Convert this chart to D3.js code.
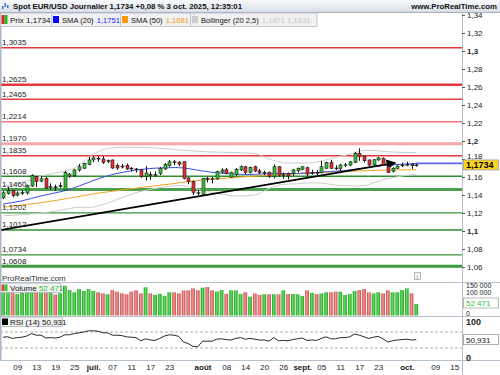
<!DOCTYPE html>
<html>
<head>
<meta charset="utf-8">
<script src="https://cdn.jsdelivr.net/npm/d3@7/dist/d3.min.js"></script>
<style>
  body { margin: 0; background: #fff; }
  svg { display: block; font-family: "Liberation Sans", Arial, sans-serif; }
</style>
</head>
<body>
<svg id="chart" width="500" height="375"></svg>
<script>
// ---- data (daily EUR/USD, 4 June -> 3 Oct 2025) ----
var open = [1.1368,1.1418,1.1450,1.1398,1.1422,1.1423,1.1500,1.1604,1.1555,1.1585,
  1.1490,1.1490,1.1492,1.1455,1.1610,1.1614,1.1678,1.1697,1.1741,1.1790,
  1.1808,1.1800,1.1778,1.1789,1.1730,1.1720,1.1730,1.1698,1.1690,1.1678,
  1.1603,1.1628,1.1620,1.1641,1.1689,1.1730,1.1770,1.1765,1.1770,1.1590,
  1.1548,1.1425,1.1408,1.1585,1.1580,1.1578,1.1655,1.1680,1.1598,1.1630,
  1.1678,1.1714,1.1652,1.1714,1.1667,1.1648,1.1650,1.1605,1.1714,1.1620,
  1.1640,1.1640,1.1670,1.1686,1.1703,1.1640,1.1648,1.1647,1.1697,1.1759,
  1.1700,1.1697,1.1733,1.1733,1.1762,1.1863,1.1833,1.1789,1.1733,1.1790,
  1.1807,1.1714,1.1664,1.1697,1.1725,1.1733,1.1740,1.1725];
var high = [1.1445,1.1492,1.1458,1.1440,1.1450,1.1515,1.1631,1.1614,1.1610,1.1600,
  1.1530,1.1515,1.1540,1.1668,1.1645,1.1690,1.1745,1.1760,1.1825,1.1830,
  1.1830,1.1830,1.1795,1.1795,1.1750,1.1745,1.1750,1.1710,1.1700,1.1690,
  1.1721,1.1660,1.1660,1.1710,1.1755,1.1788,1.1788,1.1775,1.1772,1.1598,
  1.1560,1.1450,1.1588,1.1600,1.1600,1.1670,1.1698,1.1700,1.1660,1.1700,
  1.1730,1.1720,1.1715,1.1725,1.1690,1.1670,1.1660,1.1740,1.1718,1.1650,
  1.1650,1.1690,1.1705,1.1720,1.1715,1.1680,1.1680,1.1780,1.1770,1.1790,
  1.1730,1.1748,1.1755,1.1780,1.1878,1.1918,1.1840,1.1795,1.1800,1.1820,
  1.1818,1.1740,1.1710,1.1730,1.1760,1.1770,1.1755,1.1750];
var low = [1.1355,1.1405,1.1373,1.1385,1.1400,1.1405,1.1490,1.1490,1.1540,1.1470,
  1.1460,1.1446,1.1480,1.1450,1.1590,1.1600,1.1660,1.1690,1.1730,1.1765,
  1.1770,1.1745,1.1755,1.1690,1.1680,1.1695,1.1678,1.1660,1.1650,1.1590,
  1.1560,1.1570,1.1600,1.1620,1.1680,1.1712,1.1730,1.1720,1.1575,1.1520,
  1.1400,1.1392,1.1392,1.1540,1.1530,1.1570,1.1640,1.1630,1.1590,1.1615,
  1.1665,1.1630,1.1640,1.1655,1.1630,1.1620,1.1590,1.1585,1.1605,1.1580,
  1.1572,1.1610,1.1650,1.1675,1.1605,1.1625,1.1620,1.1640,1.1690,1.1690,
  1.1680,1.1660,1.1710,1.1720,1.1755,1.1780,1.1760,1.1720,1.1725,1.1780,
  1.1725,1.1645,1.1650,1.1690,1.1710,1.1720,1.1690,1.1715];
var close = [1.1425,1.1452,1.1395,1.1422,1.1426,1.1505,1.1615,1.1548,1.1580,1.1478,
  1.1494,1.1486,1.1504,1.1650,1.1632,1.1678,1.1714,1.1752,1.1790,1.1812,
  1.1805,1.1763,1.1782,1.1700,1.1700,1.1718,1.1690,1.1694,1.1686,1.1603,
  1.1645,1.1618,1.1627,1.1697,1.1741,1.1768,1.1767,1.1742,1.1585,1.1548,
  1.1430,1.1418,1.1585,1.1581,1.1578,1.1659,1.1678,1.1641,1.1650,1.1686,
  1.1714,1.1652,1.1704,1.1667,1.1648,1.1651,1.1608,1.1714,1.1620,1.1625,
  1.1612,1.1678,1.1697,1.1714,1.1633,1.1648,1.1645,1.1714,1.1759,1.1697,
  1.1697,1.1733,1.1735,1.1768,1.1863,1.1826,1.1781,1.1733,1.1792,1.1812,
  1.1733,1.1650,1.1697,1.1722,1.1733,1.1740,1.1725,1.1734];
var volume = [118000,125000,110000,98000,105000,121000,128000,112000,104000,117000,
  109000,96000,102000,136000,116000,106000,121000,112000,121000,112000,
  106000,101000,97000,116000,109000,101000,97000,109000,115000,101000,
  129000,101000,94000,99000,90000,106000,106000,101000,115000,115000,
  124000,115000,127000,130000,115000,109000,116000,99000,115000,115000,
  98000,106000,86000,101000,94000,97000,97000,97000,97000,115000,
  98000,98000,97000,89000,115000,104000,98000,101000,106000,106000,
  109000,109000,94000,98000,112000,116000,121000,106000,101000,106000,
  101000,115000,106000,106000,116000,124000,101000,52471];
var rsi = [57,58,54,56,57,60,66,62,62,55,56,55,57,63,63,66,68,70,73,73,
  72,68,68,62,62,61,58,57,56,48,53,50,49,54,60,63,62,59,45,41,
  34,33,47,47,47,52,53,51,50,54,56,52,54,52,50,50,47,56,48,49,
  48,51,53,55,49,50,49,54,58,53,53,56,56,58,65,62,58,54,57,59,
  53,45,48,50,51,52,50,50.931];

// indicator lines, read at sample candles
var sma20Idx = [0,4,8,12,14,16,18,20,22,24,26,28,30,32,34,36,38,40,42,44,46,48,50,52,54,56,58,60,62,64,66,68,70,72,74,76,78,80,82,84,86,87];
var sma20Val = [1.1300,1.1335,1.1390,1.1435,1.1462,1.1500,1.1540,1.1580,1.1612,1.1640,1.1660,1.1678,1.1690,1.1698,1.1702,1.1705,1.1700,1.1685,1.1668,1.1652,1.1642,1.1635,1.1630,1.1628,1.1632,1.1636,1.1640,1.1638,1.1640,1.1645,1.1650,1.1658,1.1665,1.1672,1.1685,1.1700,1.1715,1.1728,1.1735,1.1742,1.1748,1.1751];
var sma50Idx = [0,5,10,15,20,25,30,35,40,45,50,55,60,65,70,75,80,85,87];
var sma50Val = [1.1265,1.1295,1.1330,1.1375,1.1420,1.1455,1.1490,1.1520,1.1555,1.1580,1.1600,1.1615,1.1630,1.1645,1.1658,1.1668,1.1676,1.1680,1.1681];
var bandIdx = [0,4,8,12,14,16,18,20,22,25,28,31,34,37,40,43,46,50,53,56,58,60,62,64,66,68,70,72,74,76,78,80,82,84,87];
var bandUpper = [1.1500,1.1540,1.1610,1.1655,1.1680,1.1730,1.1820,1.1880,1.1915,1.1930,1.1930,1.1925,1.1915,1.1900,1.1890,1.1880,1.1875,1.1870,1.1860,1.1800,1.1770,1.1755,1.1755,1.1757,1.1765,1.1790,1.1820,1.1840,1.1870,1.1895,1.1895,1.1885,1.1878,1.1873,1.1871];
var bandLower = [1.1170,1.1180,1.1200,1.1230,1.1250,1.1265,1.1260,1.1280,1.1309,1.1370,1.1426,1.1463,1.1489,1.1506,1.1480,1.1440,1.1409,1.1390,1.1400,1.1472,1.1510,1.1521,1.1525,1.1533,1.1535,1.1526,1.1510,1.1504,1.1500,1.1505,1.1535,1.1571,1.1592,1.1611,1.1631];

// support / resistance levels and the drawn trend line
var resistLevels = [1.3035, 1.2625, 1.2465, 1.2214, 1.1970, 1.1835];
var supportLevels = [1.1608, 1.1460, 1.1202, 1.1012, 1.0734, 1.0608];
var trendIdx = [-0.63, 81.6];
var trendVal = [1.1010, 1.1748];

// axis ticks
var dateTickIdx = [3,7,11,15,19,23,27,31,35,42,47,51,55,59,63,67,71,75,79,85,91,95];
var dateTickLabels = ["09","13","19","25","juil.","07","11","17","23","août","08","14","20","26","sept.","05","11","17","23","oct.","09","15"];
var priceTicks = [1.06,1.08,1.10,1.12,1.14,1.16,1.18,1.20,1.22,1.24,1.26,1.28,1.30,1.32,1.34];
var volTicks = [0, 100000, 150000];
var rsiTicks = [0, 100];
var rsiBands = [70, 30];

var lastPrice = 1.1734, lastSma20 = 1.1751, lastSma50 = 1.1681;

// ---- layout ----
var svg = d3.select("#chart");
var axisX = 462;
var priceTop = 12, priceBottom = 282, volBottom = 316, rsiBottom = 360;

var x = d3.scaleLinear().domain([0, 95]).range([3, 3 + 4.75 * 95]);
var y = d3.scaleLinear().domain([1.06, 1.34]).range([267, 15]);
var yVol = d3.scaleLinear().domain([0, 150000]).range([315.5, 315.5 - 150000 / 4563]);
var yRsi = d3.scaleLinear().domain([0, 100]).range([360, 320]);

var comma = function(s) { return s.replace(".", ","); };

var defs = svg.append("defs");
function clip(id, y0, y1) {
  defs.append("clipPath").attr("id", id)
    .append("rect").attr("x", 0).attr("y", y0).attr("width", axisX).attr("height", y1 - y0);
}
clip("clipPrice", priceTop, priceBottom);
clip("clipVol", priceBottom, volBottom);
clip("clipRsi", volBottom, rsiBottom);

function hGrad(id, edge, mid) {
  var g = defs.append("linearGradient").attr("id", id).attr("x1", 0).attr("x2", 1).attr("y1", 0).attr("y2", 0);
  g.append("stop").attr("offset", "0%").attr("stop-color", edge);
  g.append("stop").attr("offset", "45%").attr("stop-color", mid);
  g.append("stop").attr("offset", "100%").attr("stop-color", edge);
}
hGrad("volUp", "#1f9a1f", "#5ee25e");
hGrad("volDown", "#c14545", "#f59a9a");

var tg = defs.append("linearGradient").attr("id", "titleBg").attr("x1", 0).attr("x2", 0).attr("y1", 0).attr("y2", 1);
tg.append("stop").attr("offset", "0%").attr("stop-color", "#f8fafc");
tg.append("stop").attr("offset", "100%").attr("stop-color", "#d7dee6");

defs.append("marker").attr("id", "arrow")
    .attr("viewBox", "0 0 10 10").attr("refX", 4).attr("refY", 5)
    .attr("markerWidth", 5.5).attr("markerHeight", 5.5).attr("orient", "auto")
  .append("path").attr("d", "M0,0 L10,5 L0,10 z").attr("fill", "#000");

svg.append("rect").attr("width", 500).attr("height", 375).attr("fill", "#fff");

// ---- price panel ----
var pg = svg.append("g").attr("clip-path", "url(#clipPrice)");

var resistStyle = [["#e8373c", 1.5], ["#e8373c", 2.5], ["#e53a3f", 1.5], ["#f07d7f", 1.5], ["#f6a6a6", 3], ["#e8373c", 1.5]];
var supportStyle = [["#2f8f2f", 1.5], ["#4da04d", 3], ["#3a953a", 1.2], ["#2f8f2f", 1.5], ["#3a953a", 1.2], ["#3d9a3d", 3]];
var levels = resistLevels.map(function(v, i) { return {v: v, c: resistStyle[i][0], w: resistStyle[i][1]}; })
  .concat(supportLevels.map(function(v, i) { return {v: v, c: supportStyle[i][0], w: supportStyle[i][1]}; }));

pg.selectAll("line.level").data(levels).enter().append("line")
    .attr("class", "level")
    .attr("x1", 0).attr("x2", axisX)
    .attr("y1", function(d) { return y(d.v); })
    .attr("y2", function(d) { return y(d.v); })
    .attr("stroke", function(d) { return d.c; })
    .attr("stroke-width", function(d) { return d.w; });

function sampled(idx, vals) { return idx.map(function(d, i) { return [d, vals[i]]; }); }
var line = d3.line().x(function(d) { return x(d[0]); }).y(function(d) { return y(d[1]); }).curve(d3.curveMonotoneX);

pg.append("path").datum(sampled(bandIdx, bandUpper)).attr("d", line)
    .attr("fill", "none").attr("stroke", "#cdcdcd").attr("stroke-width", 1);
pg.append("path").datum(sampled(bandIdx, bandLower)).attr("d", line)
    .attr("fill", "none").attr("stroke", "#cdcdcd").attr("stroke-width", 1);
pg.append("path").datum(sampled(sma50Idx, sma50Val)).attr("d", line)
    .attr("fill", "none").attr("stroke", "#f7a21e").attr("stroke-width", 1);
pg.append("path").datum(sampled(sma20Idx, sma20Val)).attr("d", line)
    .attr("fill", "none").attr("stroke", "#3b4fe6").attr("stroke-width", 1);
// current SMA20 carried to the scale
pg.append("line")
    .attr("x1", x(87)).attr("x2", axisX)
    .attr("y1", y(lastSma20)).attr("y2", y(lastSma20))
    .attr("stroke", "#5a6af0").attr("stroke-width", 1.6);

// trend line
pg.append("path")
    .datum(sampled(trendIdx, trendVal))
    .attr("d", d3.line().x(function(d) { return x(d[0]); }).y(function(d) { return y(d[1]); }))
    .attr("fill", "none").attr("stroke", "#000").attr("stroke-width", 1.8)
    .attr("marker-end", "url(#arrow)");

// candles
var candles = d3.range(close.length).map(function(i) {
  return {i: i, o: open[i], h: high[i], l: low[i], c: close[i]};
});
var cg = pg.append("g").selectAll("g").data(candles).enter().append("g");
cg.append("line")
    .attr("x1", function(d) { return Math.round(x(d.i)) + 0.5; })
    .attr("x2", function(d) { return Math.round(x(d.i)) + 0.5; })
    .attr("y1", function(d) { return y(d.h); })
    .attr("y2", function(d) { return y(d.l); })
    .attr("stroke", "#111").attr("stroke-width", 1);
cg.append("rect")
    .attr("x", function(d) { return Math.round(x(d.i)) - 1; })
    .attr("width", 3)
    .attr("y", function(d) { return y(Math.max(d.o, d.c)); })
    .attr("height", function(d) { return Math.max(0.8, Math.abs(y(d.o) - y(d.c))); })
    .attr("fill", function(d) { return d.c >= d.o ? "#36c236" : "#e23030"; })
    .attr("stroke", "#1a1a1a").attr("stroke-width", 0.6);

// level labels on the left
svg.append("g").selectAll("text").data(levels).enter().append("text")
    .attr("x", 2)
    .attr("y", function(d) { return y(d.v) - 2.5; })
    .attr("font-size", 8).attr("fill", "#222")
    .text(function(d) { return comma(d.v.toFixed(4)); });

svg.append("text").attr("x", 2).attr("y", 280.5)
    .attr("font-size", 8).attr("fill", "#333").text("ProRealTime.com");
svg.append("rect").attr("x", 414.5).attr("y", 272.5).attr("width", 6).attr("height", 7)
    .attr("fill", "#f4f4f4").attr("stroke", "#9aa4ae").attr("stroke-width", 0.7);
svg.append("text").attr("x", 417.5).attr("y", 278.5).attr("text-anchor", "middle")
    .attr("font-size", 6).attr("fill", "#777").text("i");

// ---- volume panel ----
var vg = svg.append("g").attr("clip-path", "url(#clipVol)");
vg.selectAll("rect").data(candles).enter().append("rect")
    .attr("x", function(d) { return x(d.i) - 1.8; })
    .attr("width", 3.7)
    .attr("y", function(d) { return yVol(volume[d.i]); })
    .attr("height", function(d) { return yVol(0) - yVol(volume[d.i]); })
    .attr("fill", function(d) { return d.c >= d.o ? "url(#volUp)" : "url(#volDown)"; });

// ---- RSI panel ----
var rg = svg.append("g").attr("clip-path", "url(#clipRsi)");
rg.selectAll("line").data(rsiBands).enter().append("line")
    .attr("x1", 0).attr("x2", axisX)
    .attr("y1", function(d) { return yRsi(d); }).attr("y2", function(d) { return yRsi(d); })
    .attr("stroke", "#9a9a9a").attr("stroke-width", 0.8).attr("stroke-dasharray", "3,2");
rg.append("path").datum(rsi)
    .attr("d", d3.line().x(function(d, i) { return x(i); }).y(function(d) { return yRsi(d); }))
    .attr("fill", "none").attr("stroke", "#2a2a2a").attr("stroke-width", 1);

// ---- separators, borders ----
svg.selectAll("line.sep").data([priceBottom, volBottom, rsiBottom]).enter().append("line")
    .attr("class", "sep")
    .attr("x1", 0).attr("x2", 500)
    .attr("y1", function(d) { return d + 0.5; }).attr("y2", function(d) { return d + 0.5; })
    .attr("stroke", "#b7c1cb").attr("stroke-width", 1);
svg.append("line").attr("x1", axisX + 0.5).attr("x2", axisX + 0.5).attr("y1", priceTop).attr("y2", 375)
    .attr("stroke", "#b4c0cc").attr("stroke-width", 1);
svg.append("line").attr("x1", 0.75).attr("x2", 0.75).attr("y1", priceTop).attr("y2", rsiBottom)
    .attr("stroke", "#a9b6c3").attr("stroke-width", 1.5);

// ---- axes ----
function priceFmt(d) {
  var s = d.toFixed(2);
  if (s.slice(-1) === "0") s = s.slice(0, -1);
  return comma(s);
}
var ay = svg.append("g").attr("transform", "translate(" + axisX + ",0)")
    .call(d3.axisRight(y).tickValues(priceTicks).tickSize(3).tickPadding(2).tickFormat(priceFmt));
ay.select(".domain").remove();
ay.selectAll("line").attr("stroke", "#555");
ay.selectAll("text")
    .attr("font-family", "Liberation Sans, Arial, sans-serif")
    .attr("font-size", 8).attr("fill", "#222")
    .attr("font-weight", function(d) { return Math.abs(d * 10 - Math.round(d * 10)) < 1e-6 ? "bold" : null; })
    // the 1,18 label sits just above the last-price box, as on the original
    .attr("y", function(d) { return Math.abs(d - 1.18) < 1e-6 ? -3.5 : 0; });

var volFmt = d3.format(",");
var volLabelCenter = {0: 313, 100000: 292.6, 150000: 284.8};
var av = svg.append("g").attr("transform", "translate(" + axisX + ",0)")
    .call(d3.axisRight(yVol).tickValues(volTicks).tickSize(0).tickPadding(4)
      .tickFormat(function(d) { return volFmt(d).replace(/,/g, " "); }));
av.select(".domain").remove();
av.selectAll("text").attr("font-family", "Liberation Sans, Arial, sans-serif")
    .attr("font-size", 7).attr("fill", "#222")
    .attr("y", function(d) { return volLabelCenter[d] - yVol(d); });

var ar = svg.append("g").attr("transform", "translate(" + axisX + ",0)")
    .call(d3.axisRight(yRsi).tickValues(rsiTicks).tickSize(0).tickPadding(4));
ar.select(".domain").remove();
ar.selectAll("text").attr("font-family", "Liberation Sans, Arial, sans-serif")
    .attr("font-size", 9).attr("font-weight", "bold").attr("fill", "#222")
    .attr("dy", function(d) { return d === 0 ? "0.05em" : "0.55em"; });

var months = ["juil.", "août", "sept.", "oct."];
var ax = svg.append("g").attr("transform", "translate(0," + rsiBottom + ")")
    .call(d3.axisBottom(x).tickValues(dateTickIdx).tickSize(0).tickPadding(4)
      .tickFormat(function(d, i) { return dateTickLabels[i]; }));
ax.select(".domain").remove();
ax.selectAll("text").attr("font-family", "Liberation Sans, Arial, sans-serif")
    .attr("font-size", 8).attr("fill", "#222")
    .attr("font-weight", function(d, i) { return months.indexOf(dateTickLabels[i]) >= 0 ? "bold" : null; });

// value boxes on the right scale
function valueBox(cy, txt, fill, stroke, color, bold) {
  svg.append("rect").attr("x", axisX + 1.5).attr("y", cy - 5).attr("width", 35).attr("height", 10)
      .attr("fill", fill).attr("stroke", stroke).attr("stroke-width", 0.8);
  svg.append("text").attr("x", axisX + 4).attr("y", cy + 3)
      .attr("font-size", bold ? 9 : 8).attr("font-weight", bold ? "bold" : null)
      .attr("fill", color).text(txt);
}
valueBox(y(lastPrice), comma(lastPrice.toFixed(4)), "#ffd21c", "#8ea0b4", "#000", true);
valueBox(yVol(volume[volume.length - 1]) - 1, volFmt(volume[volume.length - 1]).replace(",", " "), "#fff", "#9fb0a0", "#33c033", false);
valueBox(yRsi(rsi[rsi.length - 1]), comma(rsi[rsi.length - 1].toFixed(3)), "#fff", "#9a9a9a", "#222", false);

// ---- title bar ----
svg.append("rect").attr("x", 0).attr("y", 0).attr("width", 500).attr("height", 12).attr("fill", "url(#titleBg)");
svg.append("line").attr("x1", 0).attr("x2", 500).attr("y1", 12.5).attr("y2", 12.5)
    .attr("stroke", "#a7b3bf").attr("stroke-width", 1);
[[2, 6, 3], [4.5, 3, 4], [7, 5, 3]].forEach(function(b) {
  svg.append("rect").attr("x", b[0]).attr("y", b[1]).attr("width", 1.5).attr("height", b[2]).attr("fill", "#3b7bd4");
});
svg.append("text").attr("x", 13).attr("y", 9.3).attr("font-size", 7.8).attr("font-weight", "bold")
    .attr("fill", "#111").text("Spot EUR/USD Journalier 1,1734 +0,08 % 3 oct. 2025, 12:35:01");
svg.append("text").attr("x", 497).attr("y", 9.3).attr("text-anchor", "end").attr("font-size", 7.8)
    .attr("font-weight", "bold").attr("fill", "#111").text("www.ProRealTime.com");

// ---- legend row ----
var lg = svg.append("g");
lg.append("rect").attr("x", 0.5).attr("y", 13).attr("width", 316.5).attr("height", 13.5)
    .attr("fill", "#f1f1f1").attr("stroke", "#b3bcc6").attr("stroke-width", 0.8);
[51.5, 120.5, 190.5].forEach(function(xx) {
  lg.append("line").attr("x1", xx).attr("x2", xx).attr("y1", 13).attr("y2", 26.5)
      .attr("stroke", "#b3bcc6").attr("stroke-width", 0.8);
});
lg.append("rect").attr("x", 1.5).attr("y", 15).attr("width", 3).attr("height", 9).attr("fill", "#d22");
lg.append("rect").attr("x", 4.5).attr("y", 15).attr("width", 3).attr("height", 9).attr("fill", "#2b2");
lg.append("text").attr("x", 10).attr("y", 23).attr("font-size", 8).attr("fill", "#111").text("Prix 1,1734");
var legendItems = [
  {x: 53, sw: "#0000ff", name: "SMA (20)", val: comma(lastSma20.toFixed(4)), vc: "#1a1aff"},
  {x: 122, sw: "#ff9900", name: "SMA (50)", val: comma(lastSma50.toFixed(4)), vc: "#f59a12"},
  {x: 192, sw: "#cccccc", name: "Bollinger (20 2,5)", val: comma(bandUpper[bandUpper.length - 1].toFixed(4)) + " " + comma(bandLower[bandLower.length - 1].toFixed(4)), vc: "#c4c4c4"}
];
legendItems.forEach(function(d) {
  lg.append("rect").attr("x", d.x).attr("y", 16).attr("width", 6).attr("height", 7).attr("fill", d.sw);
  var nm = lg.append("text").attr("x", d.x + 9).attr("y", 23).attr("font-size", 7.6).attr("fill", "#111").text(d.name);
  var w = nm.node().getComputedTextLength();
  lg.append("text").attr("x", d.x + 9 + w + 3).attr("y", 23).attr("font-size", 7.6).attr("fill", d.vc).text(d.val);
});

// volume and RSI legend boxes
function panelLegend(y0, w, icon, parts) {
  var g = svg.append("g");
  g.append("rect").attr("x", 0.5).attr("y", y0).attr("width", w).attr("height", 9.5)
      .attr("fill", "#f1f1f1").attr("stroke", "#aab4be").attr("stroke-width", 0.8);
  icon(g);
  var t = g.append("text").attr("x", 10).attr("y", y0 + 7.8).attr("font-size", 8);
  parts.forEach(function(p) { t.append("tspan").attr("fill", p[1]).text(p[0]); });
}
panelLegend(283, 60, function(g) {
  g.append("rect").attr("x", 1.5).attr("y", 284.5).attr("width", 3).attr("height", 6.5).attr("fill", "#e04848");
  g.append("rect").attr("x", 4.5).attr("y", 284.5).attr("width", 3).attr("height", 6.5).attr("fill", "#3c3");
}, [["Volume ", "#111"], [volFmt(volume[volume.length - 1]).replace(",", " "), "#33c033"]]);
panelLegend(317, 62, function(g) {
  g.append("rect").attr("x", 2).attr("y", 318.5).attr("width", 6).attr("height", 6.5).attr("fill", "#000");
}, [["RSI (14) " + comma(rsi[rsi.length - 1].toFixed(3)), "#111"]]);
</script>
</body>
</html>
